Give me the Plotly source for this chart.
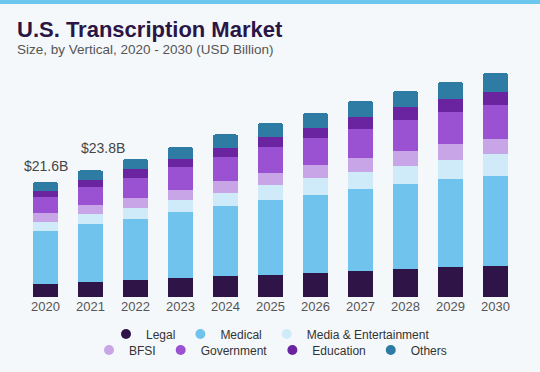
import plotly.graph_objects as go

years = ["2020", "2021", "2022", "2023", "2024", "2025", "2026", "2027", "2028", "2029", "2030"]
legal = [2.5, 2.9, 3.2, 3.5, 3.95, 4.15, 4.55, 4.9, 5.2, 5.7, 5.9]
medical = [9.9, 10.75, 11.45, 12.5, 13.15, 14.1, 14.6, 15.4, 16.0, 16.5, 16.9]
media = [1.75, 1.95, 2.1, 2.2, 2.5, 2.75, 3.15, 3.2, 3.4, 3.55, 4.0]
bfsi = [1.55, 1.75, 1.95, 2.0, 2.2, 2.35, 2.5, 2.7, 2.9, 2.95, 2.9]
government = [3.1, 3.35, 3.75, 4.15, 4.45, 4.8, 5.0, 5.3, 5.75, 6.0, 6.4]
education = [1.1, 1.35, 1.55, 1.5, 1.8, 1.9, 2.05, 2.25, 2.5, 2.45, 2.4]
others = [1.7, 1.75, 1.9, 2.35, 2.5, 2.65, 2.75, 3.05, 3.0, 3.2, 3.55]
label_years = ["2020", "2021"]
label_texts = ["$21.6B", "$23.8B"]

series = [
    ("Legal", legal, "#2f1447", "legend"),
    ("Medical", medical, "#6fc3ec", "legend"),
    ("Media & Entertainment", media, "#cfeaf9", "legend"),
    ("BFSI", bfsi, "#c8a5e6", "legend2"),
    ("Government", government, "#9a52d3", "legend2"),
    ("Education", education, "#6b24a0", "legend2"),
    ("Others", others, "#2e7ba3", "legend2"),
]

FONT = "Liberation Sans, Arial, sans-serif"
fig = go.Figure()
for name, vals, color, lg in series:
    fig.add_trace(go.Bar(
        x=years, y=vals, name=name, marker=dict(color=color, line=dict(width=0)),
        showlegend=False, hoverinfo="skip",
    ))
# legend entries with round symbols
for name, vals, color, lg in series:
    fig.add_trace(go.Scatter(
        x=[None], y=[None], mode="markers", name=name, legend=lg,
        marker=dict(color=color, size=10, symbol="circle"), showlegend=True,
    ))

totals = [sum(s[1][i] for s in series) for i in range(len(years))]

W, H = 540, 372
plot_top, plot_bottom = 60, 297
L, R = 23, 518
ph = plot_bottom - plot_top

def py(px):
    return (plot_bottom - px) / ph

def pxx(px):
    return (px - L) / (R - L)

shifts = [(0, 16), (12, 22)]
for (yr, txt), (xs, ys) in zip(zip(label_years, label_texts), shifts):
    i = years.index(yr)
    fig.add_annotation(x=i, y=totals[i], text=txt, showarrow=False,
                       xanchor="center", yanchor="middle", xshift=xs, yshift=ys,
                       font=dict(family=FONT, size=14, color="#454545"))

fig.add_annotation(xref="paper", yref="paper", x=pxx(15), y=py(29), xanchor="left", yanchor="middle",
                   text="<b>U.S. Transcription Market</b>", showarrow=False,
                   font=dict(family=FONT, size=22, color="#2a1646"))
fig.add_annotation(xref="paper", yref="paper", x=pxx(15), y=py(49.5), xanchor="left", yanchor="middle",
                   text="Size, by Vertical, 2020 - 2030 (USD Billion)", showarrow=False,
                   font=dict(family=FONT, size=13.5, color="#555555"))

fig.add_shape(type="rect", xref="paper", yref="paper", x0=pxx(0), x1=pxx(W), y0=py(4), y1=py(0),
              fillcolor="#6cc7ee", line=dict(width=0), layer="above")

legend_font = dict(family=FONT, size=12, color="#333333")
fig.update_layout(
    width=W, height=H,
    margin=dict(l=L, r=W - R, t=plot_top, b=H - plot_bottom, autoexpand=False),
    paper_bgcolor="#f5f8fa", plot_bgcolor="#f5f8fa",
    barmode="stack", bargap=0.43, barcornerradius=3,
    xaxis=dict(type="category", categoryorder="array", categoryarray=years,
               range=[-0.5, len(years) - 0.5], showgrid=False, showline=False,
               zeroline=False, ticks="",
               tickfont=dict(family=FONT, size=13, color="#555555")),
    yaxis=dict(range=[0, ph / 5.32], visible=False, showgrid=False, zeroline=False),
    legend=dict(orientation="h", x=0.5, xanchor="center", y=py(334), yanchor="middle",
                font=legend_font, bgcolor="rgba(0,0,0,0)", itemsizing="trace",
                traceorder="normal"),
    legend2=dict(orientation="h", x=0.5, xanchor="center", y=py(350), yanchor="middle",
                 font=legend_font, bgcolor="rgba(0,0,0,0)", itemsizing="trace",
                 traceorder="normal"),
    showlegend=True,
)

fig.write_html("out.html", config={"displayModeBar": False},
               post_script="document.body.style.margin='0';document.body.style.overflow='hidden';")
